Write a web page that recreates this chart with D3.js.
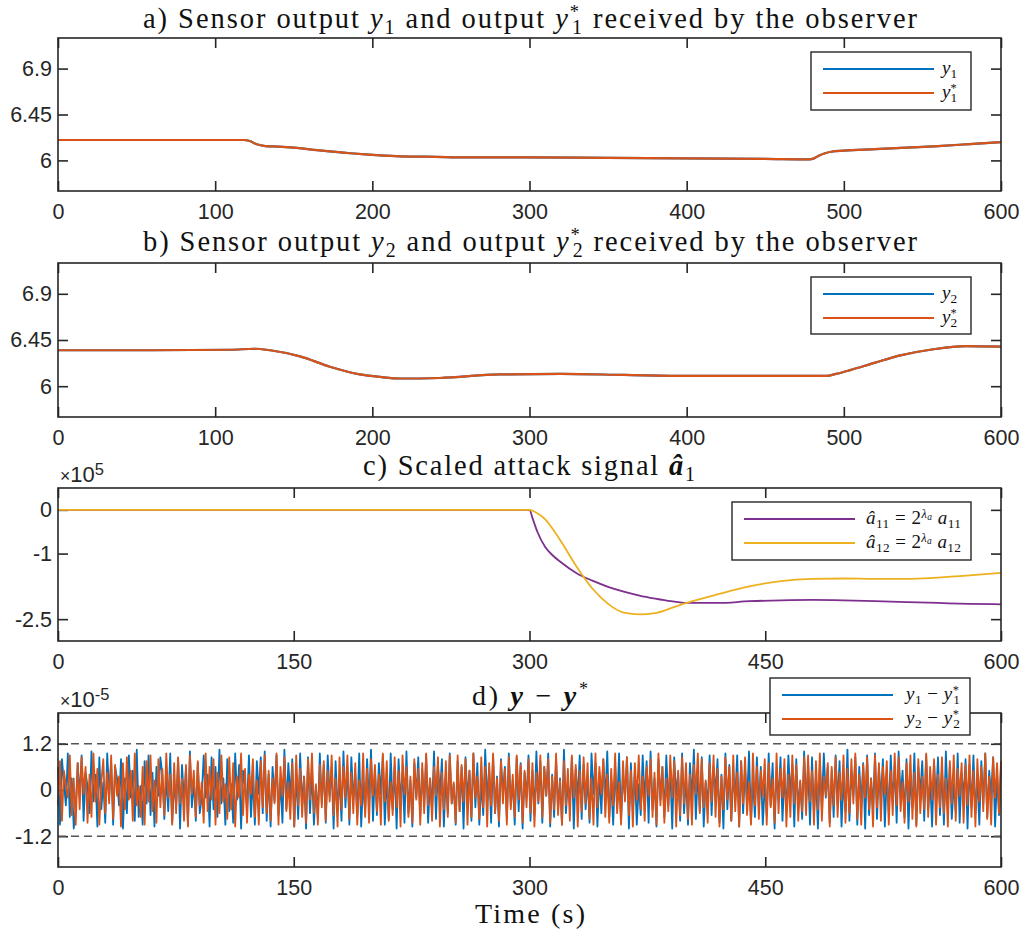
<!DOCTYPE html>
<html>
<head>
<meta charset="utf-8">
<script src="https://cdn.jsdelivr.net/npm/d3@7"></script>
<style>
  body { margin: 0; background: #fff; }
  svg { display: block; }
</style>
</head>
<body>
<script>
// ---- data ----
// panel a: y1 and y1* (identical, y1* drawn on top)
var tA = [0, 60, 118, 122, 126, 132, 140, 150, 165, 186, 200, 218, 240, 260, 300, 350, 400, 450, 478, 481, 484, 488, 492, 500, 520, 540, 560, 580, 600];
var y1Recv = [6.2, 6.2, 6.2, 6.19, 6.16, 6.14, 6.135, 6.125, 6.1, 6.07, 6.055, 6.04, 6.035, 6.03, 6.03, 6.025, 6.02, 6.015, 6.01, 6.02, 6.045, 6.07, 6.085, 6.095, 6.11, 6.125, 6.14, 6.16, 6.18];
var y1Sens = [6.2, 6.2, 6.2, 6.19, 6.16, 6.14, 6.135, 6.125, 6.1, 6.07, 6.055, 6.04, 6.035, 6.03, 6.03, 6.025, 6.02, 6.015, 6.01, 6.02, 6.045, 6.07, 6.085, 6.095, 6.11, 6.125, 6.14, 6.16, 6.18];

// panel b: y2 and y2*
var tB = [0, 60, 110, 125, 135, 154, 173, 192, 205, 218, 243, 281, 320, 360, 401, 450, 489, 495, 504, 520, 536, 557, 578, 600];
var y2Recv = [6.35, 6.35, 6.355, 6.365, 6.35, 6.29, 6.19, 6.115, 6.09, 6.075, 6.08, 6.115, 6.12, 6.11, 6.1, 6.1, 6.1, 6.12, 6.157, 6.23, 6.3, 6.36, 6.39, 6.385];
var y2Sens = [6.35, 6.35, 6.355, 6.365, 6.35, 6.29, 6.19, 6.115, 6.09, 6.075, 6.08, 6.115, 6.12, 6.11, 6.1, 6.1, 6.1, 6.12, 6.157, 6.23, 6.3, 6.36, 6.39, 6.385];

// panel c: scaled attack signal (x 1e5)
var tC = [0, 300, 302, 305, 310, 315, 320, 330, 340, 350, 360, 370, 380, 390, 400, 420, 440, 460, 480, 500, 520, 540, 560, 580, 600];
var a11 = [0, 0, -0.2, -0.5, -0.85, -1.05, -1.2, -1.45, -1.62, -1.76, -1.87, -1.96, -2.03, -2.09, -2.13, -2.13, -2.09, -2.07, -2.06, -2.07, -2.09, -2.11, -2.13, -2.15, -2.16];
var a12 = [0, 0, -0.02, -0.08, -0.22, -0.45, -0.72, -1.3, -1.8, -2.15, -2.35, -2.39, -2.36, -2.25, -2.13, -1.93, -1.75, -1.63, -1.58, -1.57, -1.58, -1.58, -1.55, -1.5, -1.44];

// panel d: y - y* (x 1e-5), evenly spaced over 0..600 s
var e1 = [
  .6,-.9,.8,.2,-.4,.95,-.7,.3,-1,-.5,.7,-.2,.9,-.8,.45,.1,-.6,1,-.3,.4,
  -.95,.85,-.5,.2,-.85,.95,-.1,.7,-.9,.6,.3,-.4,.8,-1,.3,-.6,.9,-.2,.5,-.8,
  1.05,-.7,.1,-.9,.75,-.35,.9,-.65,.45,-.95,.6,-.15,.85,.4,-.75,.35,-.55,.95,-.85,.2,
  -.4,.8,-1,.65,-.3,.55,-.9,1,-.45,.25,-.8,.7,-.6,-.2,.9,-.2,.4,-.95,.85,-.5,
  .6,-.7,1.05,-.35,.3,-.9,.8,-.55,.15,-.85,.95,-.25,.65,-1,.5,.1,-.45,.9,-.7,.3,
  -.9,.75,-.1,.85,-.6,1,-.8,.4,-.95,.6,-.3,.9,-.65,.2,-.85,1.05,-.5,.7,-.2,.8,
  -.95,.45,-.75,.95,-.4,.35,-1,.85,-.6,.5,-.9,.1,-.7,.95,-.35,.65,-.85,.9,-.15,.55,
  -1,.75,-.5,.3,-.8,1,-.45,.6,-.9,.85,-.25,.4,-.7,.95,-.95,.2,-.55,.8,-.4,1.05,
  -.8,.5,-.65,.7,-.1,.9,-.9,.35,-.75,.95,-.5,.6,-1,.8,-.3,.45,-.85,1,-.6,.25,
  -.95,.7,-.2,.85,-.7,.55,-.4,.9,-.85,.3,-.5,1,-.75,.65,-.15,.8,-.95,.4,-.6,.95,
  -.35,.15,-.9,.75,-.55,.6,-1,.85,-.25,.5,-.8,.95,-.45,.7,-.9,.2,-.65,1.05,-.3,.55,
  -.85,.9,-.6,.35,-.95,.8,-.1,.6,-.75,.95,-.4,.25,-.9,.85,-.55,.7,-1,.45,-.2,.9,
  -.8,.5,-.65,1,-.35,.75,-.85,.6,-.15,.95,-.95,.4,-.7,.8,-.5,.3,-.9,1.05,-.6,.2,
  -.4,.85,-1,.55,-.25,.9,-.75,.65,-.5,.35,-.85,.95,-.1,.7,-.95,.45,-.6,.8,-.3,1,
  -.7,.25,-.9,.6,-.45,.95,-.8,.4,-.2,.85,-1,.7,-.55,.5,-.9,.15,-.65,.9,-.35,.75,
  -.85,1,-.5,.3,-.95,.8,-.25,.6,-.7,.9,-.4,.55,-1,.85,-.15,.45,-.8,.95,-.6,.35,
  -.9,.7,-.3,1.05,-.75,.5,-.55,.85,-.95,.2,-.45,.9,-.65,.6,-.1,.8,-.85,.4,-1,.95,
  -.5,.65,-.8,.35,-.2,.9,-.95,.75,-.6,.55,-.35,1,-.85,.3,-.7,.85,-.45,.6,-.9,.15,
  -.65,.95,-.4,.7,-1,.5,-.25,.85,-.8,.4,-.55,.9,-.15,.65,-.95,.8,-.5,.2,-.75,1,
  -.3,.55,-.9,.85,-.6,.35,-1,.7,-.45,.95,-.2,.6,-.85,.5,-.7,.9,-.35,.75,-.95,.25,
  -.55,1.05,-.8,.45,-.15,.85,-.9,.6,-.4,.7,-1,.9,-.65,.3,-.5,.95,-.75,.55,-.25,.8,
  -.95,.4,-.6,.9,-.35,.65,-.85,1,-.2,.5,-.7,.8,-1,.35,-.45,.95,-.9,.6,-.1,.75,
  -.8,.9,-.5,.25,-.95,.7,-.3,.85,-.65,.55,-.9,1,-.4,.6,-.75,.15,-.55,.95,-.85,.45,
  -.2,.8,-1,.65,-.45,.9,-.6,.3,-.9,.75,-.35,.95,-.7,.5,-.15,.85,-.95,.4,-.65,.6
];
var e2 = [
  -.4,.75,-.8,.5,.1,-.2,.9,-.65,.3,-.9,.7,-.5,.85,-.1,.6,-.85,.4,-.7,.95,-.3,
  .55,-.9,.2,.8,-.6,.45,-.35,.9,-.75,.65,-.15,.35,-.95,.7,-.5,.85,-.25,.5,-.8,.95,
  -.4,.1,-.7,.6,-.9,.75,-.3,.9,-.55,.25,-.85,.8,-.45,.55,-.65,.95,-.2,.4,-.9,.7,
  -.6,.85,-.35,.3,-.8,.65,-.95,.9,-.1,.5,-.7,.75,-.4,.2,-.85,.95,-.55,.6,-.25,.8,
  -.9,.45,-.6,.9,-.3,.15,-.75,.85,-.5,.7,-.95,.35,-.2,.95,-.65,.55,-.85,.4,-.1,.8,
  -.7,.25,-.9,.75,-.45,.9,-.6,.5,-.8,.3,-.35,.95,-.9,.6,-.15,.85,-.55,.2,-.75,.7,
  -.95,.9,-.4,.55,-.7,.35,-.85,.8,-.25,.95,-.6,.15,-.9,.65,-.45,.75,-.8,.5,-.3,.9,
  -.65,.3,-.95,.85,-.5,.6,-.2,.9,-.75,.45,-.6,.7,-.9,.25,-.4,.95,-.7,.55,-.85,.8,
  -.15,.65,-.55,.4,-.9,.95,-.3,.75,-.8,.2,-.65,.85,-.45,.5,-.95,.9,-.1,.6,-.7,.35,
  -.85,.8,-.25,.55,-.9,.7,-.6,.95,-.4,.3,-.8,.6,-.15,.85,-.95,.45,-.5,.75,-.7,.9,
  -.35,.2,-.85,.9,-.55,.65,-.3,.8,-.9,.5,-.7,.95,-.2,.35,-.75,.85,-.45,.6,-.95,.7,
  -.4,.95,-.6,.3,-.8,.75,-.35,.55,-.9,.85,-.5,.4,-.7,.9,-.25,.65,-.85,.5,-.45,.8,
  -.6,.7,-.95,.45,-.3,.9,-.7,.6,-.15,.8,-.85,.35,-.5,.95,-.65,.25,-.9,.75,-.4,.55,
  -.8,.9,-.2,.65,-.95,.5,-.55,.85,-.35,.7,-.75,.3,-.9,.95,-.45,.6,-.1,.8,-.7,.4,
  -.85,.55,-.4,.95,-.6,.2,-.9,.75,-.3,.85,-.65,.5,-.95,.7,-.25,.9,-.5,.35,-.8,.6,
  -.15,.8,-.7,.45,-.9,.95,-.4,.6,-.85,.3,-.55,.9,-.2,.75,-.95,.5,-.65,.85,-.35,.7,
  -.75,.4,-.9,.65,-.1,.95,-.6,.8,-.45,.25,-.85,.7,-.3,.9,-.7,.55,-.95,.35,-.5,.85,
  -.25,.6,-.8,.9,-.55,.45,-.95,.75,-.35,.85,-.65,.2,-.9,.95,-.4,.6,-.75,.5,-.15,.8,
  -.9,.7,-.45,.3,-.85,.95,-.6,.55,-.2,.8,-.95,.4,-.7,.9,-.35,.65,-.8,.25,-.55,.85,
  -.65,.9,-.3,.5,-.9,.75,-.5,.95,-.8,.35,-.15,.7,-.95,.6,-.4,.85,-.7,.45,-.25,.9,
  -.85,.55,-.6,.8,-.35,.95,-.75,.4,-.9,.65,-.2,.85,-.5,.3,-.95,.9,-.45,.7,-.8,.6,
  -.1,.75,-.9,.5,-.65,.95,-.4,.85,-.55,.2,-.85,.7,-.3,.9,-.75,.45,-.95,.8,-.6,.35,
  -.5,.95,-.7,.6,-.25,.8,-.9,.4,-.45,.85,-.6,.3,-.95,.75,-.35,.9,-.8,.55,-.15,.7,
  -.85,.65,-.4,.9,-.7,.5,-.95,.8,-.3,.6,-.55,.95,-.75,.35,-.9,.85,-.2,.7,-.6,.75
];
var bound = 1.2;

// tick labels
var xTicksAB = [0, 100, 200, 300, 400, 500, 600];
var xTicksCD = [0, 150, 300, 450, 600];
var yTicksAB = [6, 6.45, 6.9];
var yTicksC = [-2.5, -1, 0];
var yTicksD = [-1.2, 0, 1.2];

// ---- canvas ----
var W = 1027, H = 936;
var svg = d3.select('body').append('svg').attr('width', W).attr('height', H);

var blue = '#0072BD', orange = '#D95319', purple = '#7E2F8E', yellow = '#EDB120', ink = '#262626';
var serif = '"Liberation Serif", "DejaVu Serif", serif';
var sans = '"Liberation Sans", Arial, sans-serif';

var x = d3.scaleLinear().domain([0, 600]).range([58, 1001]);

// rich text: parts are {t, it, b, pos ('sub'|'sup'|'supsub'), dx, fs}
function rich(sel, parts, size) {
  var shift = 0;
  parts.forEach(function(p) {
    var ts = sel.append('tspan').text(p.t);
    var target = 0, fs = size;
    if (p.pos == 'sub') { target = size * 0.22; fs = size * 0.7; }
    if (p.pos == 'sup') { target = -size * 0.34; fs = size * 0.65; }
    if (p.pos == 'supsub') { target = -size * 0.2; fs = size * 0.5; }
    if (p.fs) fs = size * p.fs;
    ts.attr('dy', (target - shift).toFixed(2)).attr('font-size', fs);
    shift = target;
    if (p.dx) ts.attr('dx', p.dx);
    if (p.it) ts.attr('font-style', 'italic');
    if (p.b) ts.attr('font-weight', 'bold');
  });
  return sel;
}

function panel(top, bottom, ydom, yticks, xticks) {
  var g = svg.append('g');
  var y = d3.scaleLinear().domain(ydom).range([bottom, top]);
  var fmt = function(d) { return String(d); };

  var ax = [
    g.append('g').attr('transform', 'translate(0,' + bottom + ')')
      .call(d3.axisBottom(x).tickValues(xticks).tickSize(-10).tickPadding(13).tickFormat(fmt)),
    g.append('g').attr('transform', 'translate(0,' + top + ')')
      .call(d3.axisTop(x).tickValues(xticks).tickSize(-10).tickFormat('')),
    g.append('g').attr('transform', 'translate(58,0)')
      .call(d3.axisLeft(y).tickValues(yticks).tickSize(-10).tickPadding(6).tickFormat(fmt)),
    g.append('g').attr('transform', 'translate(1001,0)')
      .call(d3.axisRight(y).tickValues(yticks).tickSize(-10).tickFormat(''))
  ];
  ax.forEach(function(a) {
    a.select('.domain').remove();
    a.selectAll('line').attr('stroke', ink).attr('stroke-width', 1.6);
    a.selectAll('text').attr('fill', ink).style('font-family', sans).style('font-size', '21.5px');
  });
  var plot = g.append('g');
  g.append('rect').attr('x', 58).attr('y', top).attr('width', 943).attr('height', bottom - top)
    .attr('fill', 'none').attr('stroke', ink).attr('stroke-width', 1.6);
  return { g: g, plot: plot, y: y };
}

function drawLine(p, ts, vs, color, curve, w) {
  var line = d3.line().x(function(d) { return x(d[0]); }).y(function(d) { return p.y(d[1]); })
    .curve(curve || d3.curveLinear);
  p.plot.append('path').datum(d3.zip(ts, vs)).attr('d', line)
    .attr('fill', 'none').attr('stroke', color).attr('stroke-width', w || 1.6)
    .attr('stroke-linejoin', 'round');
}

function legend(x0, y0, w, h, items) {
  var g = svg.append('g');
  g.append('rect').attr('x', x0).attr('y', y0).attr('width', w).attr('height', h)
    .attr('fill', '#fff').attr('stroke', ink).attr('stroke-width', 1.4);
  items.forEach(function(it, i) {
    var ly = y0 + 17 + i * 24;
    g.append('line').attr('x1', x0 + 12).attr('x2', x0 + 123).attr('y1', ly).attr('y2', ly)
      .attr('stroke', it.color).attr('stroke-width', 2);
    var t = g.append('text').attr('x', x0 + 123 + it.gap).attr('y', ly + 5)
      .style('font-family', serif).attr('fill', '#111');
    rich(t, it.parts, 19);
    if (it.len) t.attr('textLength', it.len).attr('lengthAdjust', 'spacing');
  });
}

function title(cx, by, parts, size, len) {
  var t = svg.append('text').attr('x', cx).attr('y', by).attr('text-anchor', 'middle')
    .style('font-family', serif).attr('fill', '#111');
  rich(t, parts, size);
  if (len) t.attr('textLength', len).attr('lengthAdjust', 'spacing');
  return t;
}

function expo(y, p) {
  svg.append('text').attr('x', 60).attr('y', y).style('font-family', sans).attr('fill', ink)
    .call(function(t) { rich(t, [{ t: '×', fs: 0.8 }, { t: '10' }, { t: p, pos: 'sup', fs: 0.75 }], 22); });
}

// ---- panel a ----
var pa = panel(38, 191, [5.7, 7.2], yTicksAB, xTicksAB);
drawLine(pa, tA, y1Sens, blue, d3.curveMonotoneX, 2.2);
drawLine(pa, tA, y1Recv, orange, d3.curveMonotoneX, 2.2);
title(530, 28, [
  { t: 'a) Sensor output ' }, { t: 'y', it: 1 }, { t: '1', pos: 'sub' },
  { t: ' and output ' }, { t: 'y', it: 1 }, { t: '*', pos: 'sup' }, { t: '1', pos: 'sub', dx: -9 },
  { t: ' received by the observer' }
], 28.5, 774);
legend(811, 52, 160, 58, [
  { color: blue, gap: 8, parts: [{ t: 'y', it: 1 }, { t: '1', pos: 'sub' }] },
  { color: orange, gap: 8, parts: [{ t: 'y', it: 1 }, { t: '*', pos: 'sup' }, { t: '1', pos: 'sub', dx: -6 }] }
]);

// ---- panel b ----
var pb = panel(263, 417, [5.7, 7.2], yTicksAB, xTicksAB);
drawLine(pb, tB, y2Sens, blue, d3.curveMonotoneX, 2.2);
drawLine(pb, tB, y2Recv, orange, d3.curveMonotoneX, 2.2);
title(530, 251, [
  { t: 'b) Sensor output ' }, { t: 'y', it: 1 }, { t: '2', pos: 'sub' },
  { t: ' and output ' }, { t: 'y', it: 1 }, { t: '*', pos: 'sup' }, { t: '2', pos: 'sub', dx: -9 },
  { t: ' received by the observer' }
], 28.5, 774);
legend(811, 277, 160, 57, [
  { color: blue, gap: 8, parts: [{ t: 'y', it: 1 }, { t: '2', pos: 'sub' }] },
  { color: orange, gap: 8, parts: [{ t: 'y', it: 1 }, { t: '*', pos: 'sup' }, { t: '2', pos: 'sub', dx: -6 }] }
]);

// ---- panel c ----
var pc = panel(488, 641, [-3, 0.5], yTicksC, xTicksCD);
drawLine(pc, tC, a11, purple, d3.curveMonotoneX, 1.8);
drawLine(pc, tC, a12, yellow, d3.curveMonotoneX, 1.8);
title(529, 475, [
  { t: 'c) Scaled attack signal ' }, { t: 'â', it: 1, b: 1 }, { t: '1', pos: 'sub' }
], 28.5, 332);
expo(482, '5');
legend(732, 502, 239, 58, [
  { color: purple, gap: 11, len: 95, parts: [
    { t: 'â', it: 1 }, { t: '11', pos: 'sub' }, { t: ' = 2' }, { t: 'λ', it: 1, pos: 'sup' }, { t: 'a', it: 1, pos: 'supsub' },
    { t: ' a', it: 1 }, { t: '11', pos: 'sub' }] },
  { color: yellow, gap: 11, len: 95, parts: [
    { t: 'â', it: 1 }, { t: '12', pos: 'sub' }, { t: ' = 2' }, { t: 'λ', it: 1, pos: 'sup' }, { t: 'a', it: 1, pos: 'supsub' },
    { t: ' a', it: 1 }, { t: '12', pos: 'sub' }] }
]);

// ---- panel d ----
var pd = panel(713, 867, [-2, 2], yTicksD, xTicksCD);
var tD = e1.map(function(d, i) { return i * 600 / (e1.length - 1); });
drawLine(pd, tD, e1, blue, d3.curveLinear, 1.8);
drawLine(pd, tD, e2, orange, d3.curveLinear, 1.8);
[bound, -bound].forEach(function(b) {
  pd.plot.append('line').attr('x1', x(0)).attr('x2', x(600)).attr('y1', pd.y(b)).attr('y2', pd.y(b))
    .attr('stroke', '#555').attr('stroke-width', 1.5).attr('stroke-dasharray', '8,5');
});
title(530, 705, [
  { t: 'd) ' }, { t: 'y', it: 1, b: 1 }, { t: ' − ' }, { t: 'y', it: 1, b: 1 }, { t: '*', pos: 'sup' }
], 28, 116);
expo(707, '-5');
legend(770, 678, 200, 57, [
  { color: blue, gap: 13, len: 54, parts: [{ t: 'y', it: 1 }, { t: '1', pos: 'sub' }, { t: ' − ' },
    { t: 'y', it: 1 }, { t: '*', pos: 'sup' }, { t: '1', pos: 'sub', dx: -6 }] },
  { color: orange, gap: 13, len: 54, parts: [{ t: 'y', it: 1 }, { t: '2', pos: 'sub' }, { t: ' − ' },
    { t: 'y', it: 1 }, { t: '*', pos: 'sup' }, { t: '2', pos: 'sub', dx: -6 }] }
]);

// x label
svg.append('text').attr('x', 530).attr('y', 923).attr('text-anchor', 'middle')
  .attr('textLength', 110).attr('lengthAdjust', 'spacing')
  .style('font-family', serif).style('font-size', '28px').attr('fill', '#111').text('Time (s)');
</script>
</body>
</html>
